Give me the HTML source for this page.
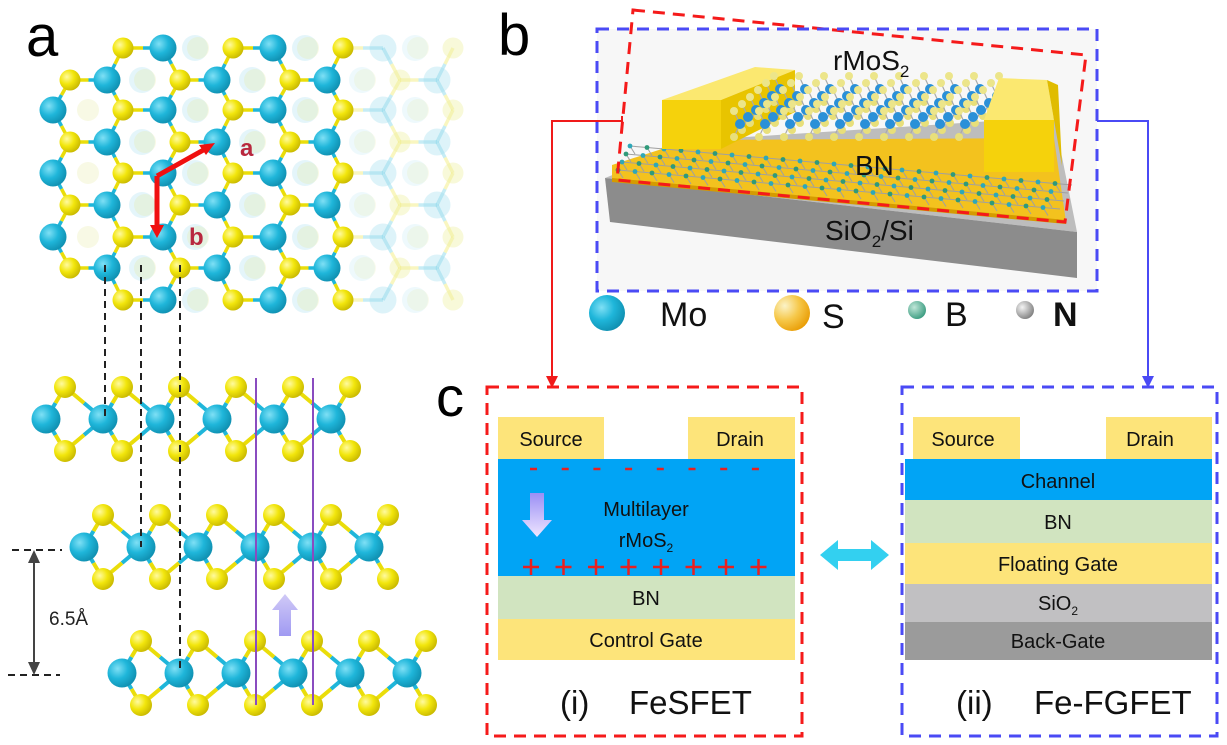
<!DOCTYPE html>
<html><head><meta charset="utf-8">
<style>
html,body{margin:0;padding:0;background:#fff;}
svg{display:block;}
text{font-family:"Liberation Sans",Arial,sans-serif;}
</style></head>
<body>
<svg id="s" width="1227" height="745" viewBox="0 0 1227 745" xmlns="http://www.w3.org/2000/svg">
<defs>
<radialGradient id="mo" cx="0.35" cy="0.35" r="0.7"><stop offset="0" stop-color="#7fe0f5"/><stop offset="0.5" stop-color="#1fb6da"/><stop offset="1" stop-color="#0f8fb0"/></radialGradient>
<radialGradient id="su" cx="0.35" cy="0.35" r="0.7"><stop offset="0" stop-color="#fffaa0"/><stop offset="0.5" stop-color="#f2e60c"/><stop offset="1" stop-color="#c8b800"/></radialGradient>
<radialGradient id="su2" cx="0.3" cy="0.3" r="0.8"><stop offset="0" stop-color="#fbf3c8"/><stop offset="0.5" stop-color="#f6c84a"/><stop offset="1" stop-color="#e89a00"/></radialGradient>
<radialGradient id="bb" cx="0.35" cy="0.35" r="0.7"><stop offset="0" stop-color="#bfe6d8"/><stop offset="1" stop-color="#3b9c80"/></radialGradient>
<radialGradient id="nn" cx="0.35" cy="0.35" r="0.7"><stop offset="0" stop-color="#f4f4f4"/><stop offset="1" stop-color="#808080"/></radialGradient>
<linearGradient id="parr" x1="0" y1="0" x2="0" y2="1"><stop offset="0" stop-color="#c8c0f5"/><stop offset="1" stop-color="#8f88f0"/></linearGradient>
<linearGradient id="parr2" x1="0" y1="0" x2="0" y2="1"><stop offset="0" stop-color="#9b8ff5"/><stop offset="1" stop-color="#efe6ff"/></linearGradient>
</defs>
<g id="lat"></g>
<g id="side"></g>
<g id="pb"></g>
<g id="fg"></g>
</svg>
<script>
var NS="http://www.w3.org/2000/svg";
function el(p,t,a,txt){var e=document.createElementNS(NS,t);for(var k in a)e.setAttribute(k,a[k]);if(txt!==undefined)e.textContent=txt;(typeof p=="string"?document.getElementById(p):p).appendChild(e);return e;}
function circ(p,x,y,r,f,o){el(p,"circle",{cx:x,cy:y,r:r,fill:f,opacity:o==null?1:o});}
function line(p,x1,y1,x2,y2,c,w,o,d){var a={x1:x1,y1:y1,x2:x2,y2:y2,stroke:c,"stroke-width":w,opacity:o==null?1:o};if(d)a["stroke-dasharray"]=d;el(p,"line",a);}
function bond(p,x1,y1,x2,y2,c1,c2,w,o){var mx=(x1+x2)/2,my=(y1+y2)/2;line(p,x1,y1,mx,my,c1,w,o);line(p,mx,my,x2,y2,c2,w,o);}
function sub(p,x,y,sz,a,b,c,anchor){var t=el(p,"text",{x:x,y:y,"font-size":sz,fill:"#111","text-anchor":anchor||"start"});el(t,"tspan",{},a);el(t,"tspan",{"font-size":Math.round(sz*0.62),dy:sz*0.25},b);if(c)el(t,"tspan",{dy:-sz*0.25},c);return t;}
var MOC="#1fb6da",SC="#eadd0a";
var rowsY=[48,80,110,142,173,205,237,268,300];
var atoms=[];
for(var r=0;r<9;r++){
 var y=rowsY[r],A=(r%2==0);
 for(var k=-1;k<5;k++){
  if(A){atoms.push({x:53+110*k,y:y,t:"M",r:r});atoms.push({x:123+110*k,y:y,t:"S",r:r});}
  else{atoms.push({x:70+110*k,y:y,t:"S",r:r});atoms.push({x:107+110*k,y:y,t:"M",r:r});}
 }
}
function vis(a){
 if(a.x<40||a.x>470)return 0;
 var lo=50,hi=350;
 if(a.r==0||a.r==8){lo=115;}
 else if(a.r==1||a.r==7){lo=65;}
 if(a.x>=lo&&a.x<=hi)return 1;
 if(a.x>hi)return 0.25;
 return 0;
}
for(var r=0;r<9;r++){var y=rowsY[r];for(var k=0;k<5;k++){
 var xs=(r%2==0)?[88+110*k,195+110*k]:[35+110*k,142+110*k];
 for(var q=0;q<2;q++){var x=xs[q];if(x<70||x>470)continue;if((r==0||r==8)&&x<130)continue;
  var o=x>350?0.18:0.28;
  circ("lat",x,y,q==0?11:13,q==0?"#e6eaa0":"#9fdcee",o);}
}}
for(var i=0;i<atoms.length;i++)for(var j=i+1;j<atoms.length;j++){
 var a=atoms[i],b=atoms[j];if(a.t==b.t)continue;
 var d=Math.hypot(a.x-b.x,a.y-b.y);
 if(d>30&&d<42){var va=vis(a),vb=vis(b);var o=Math.min(va,vb);if(o<=0)continue;
  var m=a.t=="M"?a:b,s=a.t=="M"?b:a;
  bond("lat",m.x,m.y,s.x,s.y,MOC,SC,3.5,o==1?1:0.25);}
}
atoms.forEach(function(a){var v=vis(a);if(v<=0)return;
 if(a.t=="M")circ("lat",a.x,a.y,13.5,v==1?"url(#mo)":"#9fdcee",v==1?1:0.35);
 else circ("lat",a.x,a.y,10.5,v==1?"url(#su)":"#eef0a0",v==1?1:0.4);});
line("lat",157,176,207,148,"#f01010",5);
el("lat","polygon",{points:"215,143 199,145 206,155",fill:"#f01010"});
line("lat",157,176,157,228,"#f01010",5);
el("lat","polygon",{points:"157,238 150,225 164,225",fill:"#f01010"});
el("lat","text",{x:240,y:156,"font-size":24,"font-weight":"bold",fill:"#b8283e"},"a");
el("lat","text",{x:189,y:245,"font-size":24,"font-weight":"bold",fill:"#b8283e"},"b");
el("lat","text",{x:26,y:56,"font-size":58,fill:"#000"},"a");
function layer(mo0,y,n){
 var ys=y-32,yb=y+32;
 for(var i=0;i<n;i++){var mx=mo0+57*i;
  bond("side",mx,y,mx+19,ys,MOC,SC,4);bond("side",mx,y,mx+19,yb,MOC,SC,4);
  if(i>0){bond("side",mx,y,mx-38,ys,MOC,SC,4);bond("side",mx,y,mx-38,yb,MOC,SC,4);}
 }
 for(var i=0;i<n;i++){var mx=mo0+57*i;circ("side",mx+19,ys,11,"url(#su)");circ("side",mx+19,yb,11,"url(#su)");}
 for(var i=0;i<n;i++){circ("side",mo0+57*i,y,14.5,"url(#mo)");}
}
layer(46,419,6);layer(84,547,6);layer(122,673,6);
line("side",105,265,105,418,"#222",2,1,"7,5");
line("side",141,265,141,547,"#222",2,1,"7,5");
line("side",180,265,180,673,"#222",2,1,"7,5");
line("side",256,378,256,705,"#8a4cc0",2);
line("side",313,378,313,705,"#8a4cc0",2);
el("side","polygon",{points:"279,636 291,636 291,610 298,610 285,594 272,610 279,610",fill:"url(#parr)",opacity:0.85});
line("side",12,550,62,550,"#222",2,1,"7,5");
line("side",8,675,60,675,"#222",2,1,"7,5");
line("side",34,560,34,665,"#444",2);
el("side","polygon",{points:"34,550 28,563 40,563",fill:"#444"});
el("side","polygon",{points:"34,675 28,662 40,662",fill:"#444"});
el("side","text",{x:49,y:625,"font-size":19,fill:"#222"},"6.5Å");
var P="pb";
el(P,"text",{x:498,y:55,"font-size":58,fill:"#000"},"b");
el(P,"rect",{x:597,y:29,width:500,height:262,fill:"#f7f7f7"});
el(P,"polygon",{points:"605,178 700,140 1054,117 1077,232",fill:"#bdbdbd"});
el(P,"polygon",{points:"605,178 1077,232 1077,278 610,222",fill:"#8c8c8c"});
el(P,"polygon",{points:"612,165 690,140 1054,138 1066,222 612,180",fill:"#f3c21e"});
el(P,"polygon",{points:"612,178 1066,220 1066,224 612,182",fill:"#d59b00"});
for(var j=0;j<5;j++)for(var i=0;i<26;i++){var x=630+i*17-4*j,y=146+j*8+i*1.5;
 if(x>1058)continue;if(y>176+(x-612)*0.0925-3)continue;
 line(P,x,y,x+17,y+1.5,"#a0a0a0",1);line(P,x,y,x+5,y+8,"#a0a0a0",1);
 circ(P,x,y,2.4,(i+j)%2?"#2f9a7a":"#2ea8b8");}
el(P,"polygon",{points:"662,100 721,100 795,70 755,67",fill:"#fbe870"});
el(P,"polygon",{points:"721,100 795,70 795,112 721,149",fill:"#e8c400"});
el(P,"rect",{x:662,y:100,width:59,height:49,fill:"#f5d20c"});
for(var i=0;i<10;i++)for(var j=5;j>=0;j--){var x=740+25*i+8*j,y=124-7*j;
 line(P,x,y,x-6,y-13,"#aaa",1.2);line(P,x,y,x-6,y+13,"#aaa",1.2);
 circ(P,x-6,y+13,4,"#e8df7a");circ(P,x,y,5,"#2a90d8");circ(P,x-6,y-13,4,"#ece58a");}
el(P,"polygon",{points:"984,120 999,78 1047,80 1054,120",fill:"#fbe870"});
el(P,"polygon",{points:"1054,120 1047,80 1058,85 1062,166",fill:"#e0bc00"});
el(P,"rect",{x:984,y:120,width:70,height:52,fill:"#f5d20c"});
sub(P,833,70,28,"rMoS","2");
el(P,"text",{x:855,y:175,"font-size":28,fill:"#111"},"BN");
sub(P,825,240,28,"SiO","2","/Si");
el(P,"polygon",{points:"633,10 1086,55 1065,222 617,180",fill:"none",stroke:"#f51a1a","stroke-width":3,"stroke-dasharray":"12,8"});
el(P,"rect",{x:597,y:29,width:500,height:262,fill:"none",stroke:"#4a4af5","stroke-width":3,"stroke-dasharray":"12,8"});
circ(P,607,313,18,"url(#mo)");el(P,"text",{x:660,y:326,"font-size":34,fill:"#111"},"Mo");
circ(P,792,313,18,"url(#su2)");el(P,"text",{x:822,y:328,"font-size":34,fill:"#111"},"S");
circ(P,917,310,9,"url(#bb)");el(P,"text",{x:945,y:326,"font-size":34,fill:"#111"},"B");
circ(P,1025,310,9,"url(#nn)");el(P,"text",{x:1053,y:326,"font-size":34,"font-weight":"bold",fill:"#111"},"N");
el(P,"polyline",{points:"622,121 552,121 552,378",fill:"none",stroke:"#f01a1a","stroke-width":2});
line(P,622,116,622,126,"#f01a1a",2);
el(P,"polygon",{points:"552,388 546,376 558,376",fill:"#f01a1a"});
el(P,"polyline",{points:"1097,121 1148,121 1148,378",fill:"none",stroke:"#4a4af5","stroke-width":2});
el(P,"polygon",{points:"1148,388 1142,376 1154,376",fill:"#4a4af5"});
var F="fg";
el(F,"text",{x:436,y:416,"font-size":56,fill:"#000"},"c");
var Y="#fde47a",B="#01a4f5",G="#d1e4c0",SI="#c1c0c2",BG="#9b9b9b";
el(F,"rect",{x:498,y:417,width:106,height:42,fill:Y});
el(F,"rect",{x:688,y:417,width:107,height:42,fill:Y});
el(F,"rect",{x:498,y:459,width:297,height:117,fill:B});
el(F,"rect",{x:498,y:576,width:297,height:43,fill:G});
el(F,"rect",{x:498,y:619,width:297,height:41,fill:Y});
function t(x,y,s,txt,sz){el(F,"text",{x:x,y:y,"font-size":sz||20,"text-anchor":"middle",fill:"#111"},txt);}
t(551,446,0,"Source");t(740,446,0,"Drain");
t(646,516,0,"Multilayer");
sub(F,646,547,20,"rMoS","2",null,"middle");
t(646,605,0,"BN");t(646,647,0,"Control Gate");
for(var i=0;i<8;i++){var mx=533+31.7*i;line(F,mx-3,469,mx+4,469,"#e82020",2.5);
 var px=531+32.5*i;line(F,px-8,567,px+8,567,"#e82020",2.5);line(F,px,559,px,575,"#e82020",2.5);}
el(F,"polygon",{points:"530,493 544,493 544,520 552,520 537,537 522,520 530,520",fill:"url(#parr2)"});
el(F,"text",{x:560,y:714,"font-size":33,fill:"#111"},"(i)");
el(F,"text",{x:629,y:714,"font-size":33,fill:"#111"},"FeSFET");
el(F,"rect",{x:487,y:387,width:315,height:349,fill:"none",stroke:"#f51a1a","stroke-width":3,"stroke-dasharray":"12,8"});
el(F,"rect",{x:913,y:417,width:107,height:42,fill:Y});
el(F,"rect",{x:1106,y:417,width:106,height:42,fill:Y});
el(F,"rect",{x:905,y:459,width:307,height:41,fill:B});
el(F,"rect",{x:905,y:500,width:307,height:43,fill:G});
el(F,"rect",{x:905,y:543,width:307,height:41,fill:Y});
el(F,"rect",{x:905,y:584,width:307,height:38,fill:SI});
el(F,"rect",{x:905,y:622,width:307,height:38,fill:BG});
t(963,446,0,"Source");t(1150,446,0,"Drain");
t(1058,488,0,"Channel");t(1058,529,0,"BN");t(1058,571,0,"Floating Gate");
sub(F,1058,610,20,"SiO","2",null,"middle");
t(1058,648,0,"Back-Gate");
el(F,"text",{x:956,y:714,"font-size":33,fill:"#111"},"(ii)");
el(F,"text",{x:1034,y:714,"font-size":33,fill:"#111"},"Fe-FGFET");
el(F,"rect",{x:902,y:387,width:315,height:349,fill:"none",stroke:"#4a4af5","stroke-width":3,"stroke-dasharray":"12,8"});
el(F,"polygon",{points:"820,555 838,540 838,549 871,549 871,540 889,555 871,570 871,561 838,561 838,570",fill:"#33d0f0"});
</script>
</body></html>
